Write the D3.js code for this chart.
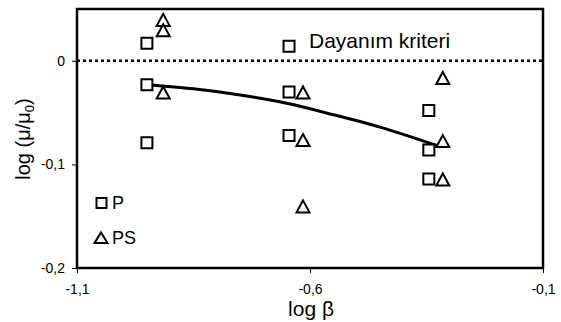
<!DOCTYPE html>
<html>
<head>
<meta charset="utf-8">
<script src="https://cdn.jsdelivr.net/npm/d3@7"></script>
<style>
  html, body { margin: 0; padding: 0; background: #fff; }
  svg { display: block; font-family: "Liberation Sans", Arial, sans-serif; }
</style>
</head>
<body>
<svg id="chart" width="561" height="322"></svg>
<script>
// ---- data ----
const pX = [-0.95, -0.95, -0.95, -0.645, -0.645, -0.645, -0.345, -0.345, -0.345];
const pY = [0.017, -0.023, -0.079, 0.014, -0.030, -0.072, -0.048, -0.086, -0.114];
const psX = [-0.915, -0.915, -0.915, -0.615, -0.615, -0.615, -0.315, -0.315, -0.315];
const psY = [0.039, 0.029, -0.031, -0.031, -0.077, -0.141, -0.017, -0.078, -0.115];
const trendX = [-0.95, -0.85, -0.75, -0.65, -0.55, -0.45, -0.32];
const trendY = [-0.023, -0.027, -0.033, -0.041, -0.052, -0.064, -0.083];
const xTicks = [-1.1, -0.6, -0.1];
const xTickLabels = ["-1,1", "-0,6", "-0,1"];
const yTicks = [0, -0.1, -0.2];
const yTickLabels = ["0", "-0,1", "-0,2"];
const criterionY = 0;
const criterionLabel = "Dayanım kriteri";
const seriesNames = ["P", "PS"];

// ---- layout ----
const svg = d3.select("#chart");
const L = 77, R = 543, T = 9, B = 268;
const x = d3.scaleLinear().domain([-1.1, -0.1]).range([L, R]);
const y = d3.scaleLinear().domain([-0.2, 0.05]).range([B, T]);

// axes
const xAxis = d3.axisBottom(x).tickValues(xTicks).tickSize(5)
  .tickFormat((d, i) => xTickLabels[i]);
const gx = svg.append("g").attr("transform", `translate(0,${B})`).call(xAxis);
gx.select(".domain").remove();
gx.selectAll(".tick line").attr("stroke", "#000").attr("stroke-width", 1);
gx.selectAll(".tick text").attr("font-size", 14).attr("fill", "#000")
  .attr("font-family", "Liberation Sans, Arial, sans-serif").attr("dy", "1.3em");

const yAxis = d3.axisLeft(y).tickValues(yTicks).tickSize(5)
  .tickFormat((d, i) => yTickLabels[i]);
const gy = svg.append("g").attr("transform", `translate(${L},0)`).call(yAxis);
gy.select(".domain").remove();
gy.selectAll(".tick line").attr("stroke", "#000").attr("stroke-width", 1);
gy.selectAll(".tick text").attr("font-size", 14).attr("fill", "#000")
  .attr("font-family", "Liberation Sans, Arial, sans-serif").attr("x", -12);

// criterion line (dotted)
svg.append("line")
  .attr("x1", L).attr("x2", R)
  .attr("y1", y(criterionY)).attr("y2", y(criterionY))
  .attr("stroke", "#000").attr("stroke-width", 2.5)
  .attr("stroke-dasharray", "3,3");

// trend line
const trend = trendX.map((v, i) => [v, trendY[i]]);
svg.append("path")
  .datum(trend)
  .attr("d", d3.line().x(d => x(d[0])).y(d => y(d[1])).curve(d3.curveMonotoneX))
  .attr("fill", "none").attr("stroke", "#000").attr("stroke-width", 3);

// markers
const sq = 5.5; // half side
const squarePath = `M${-sq},${-sq}H${sq}V${sq}H${-sq}Z`;
const triPath = "M0,-6.5L6.5,5.5L-6.5,5.5Z";

const pData = pX.map((v, i) => ({ x: v, y: pY[i] }));
const psData = psX.map((v, i) => ({ x: v, y: psY[i] }));

svg.append("g").selectAll("path").data(pData).join("path")
  .attr("d", squarePath)
  .attr("transform", d => `translate(${x(d.x)},${y(d.y)})`)
  .attr("fill", "#fff").attr("stroke", "#000").attr("stroke-width", 2);

svg.append("g").selectAll("path").data(psData).join("path")
  .attr("d", triPath)
  .attr("transform", d => `translate(${x(d.x)},${y(d.y)})`)
  .attr("fill", "#fff").attr("stroke", "#000").attr("stroke-width", 2)
  .attr("stroke-linejoin", "miter");

// frame
svg.append("rect")
  .attr("x", L).attr("y", T).attr("width", R - L).attr("height", B - T)
  .attr("fill", "none").attr("stroke", "#000").attr("stroke-width", 2.5);

// criterion label
svg.append("text").attr("x", 309).attr("y", 48)
  .attr("font-size", 21).attr("fill", "#000").text(criterionLabel);

// legend
const lg = svg.append("g");
lg.append("path").attr("d", "M-5,-5H5V5H-5Z")
  .attr("transform", "translate(101.5,203)")
  .attr("fill", "#fff").attr("stroke", "#000").attr("stroke-width", 2);
lg.append("text").attr("x", 112).attr("y", 209).attr("font-size", 18).text(seriesNames[0]);
lg.append("path").attr("d", "M0,-5.5L6.5,5L-6.5,5Z")
  .attr("transform", "translate(101,238)")
  .attr("fill", "#fff").attr("stroke", "#000").attr("stroke-width", 2);
lg.append("text").attr("x", 112).attr("y", 244).attr("font-size", 18).text(seriesNames[1]);

// axis titles
svg.append("text").attr("x", 311).attr("y", 316)
  .attr("text-anchor", "middle").attr("font-size", 21).text("log β");

const yt = svg.append("text")
  .attr("transform", "translate(30,139) rotate(-90)")
  .attr("text-anchor", "middle").attr("font-size", 20);
yt.append("tspan").text("log (μ/μ");
yt.append("tspan").attr("font-size", 13).attr("dy", 4).text("0");
yt.append("tspan").attr("dy", -4).text(")");
</script>
</body>
</html>
